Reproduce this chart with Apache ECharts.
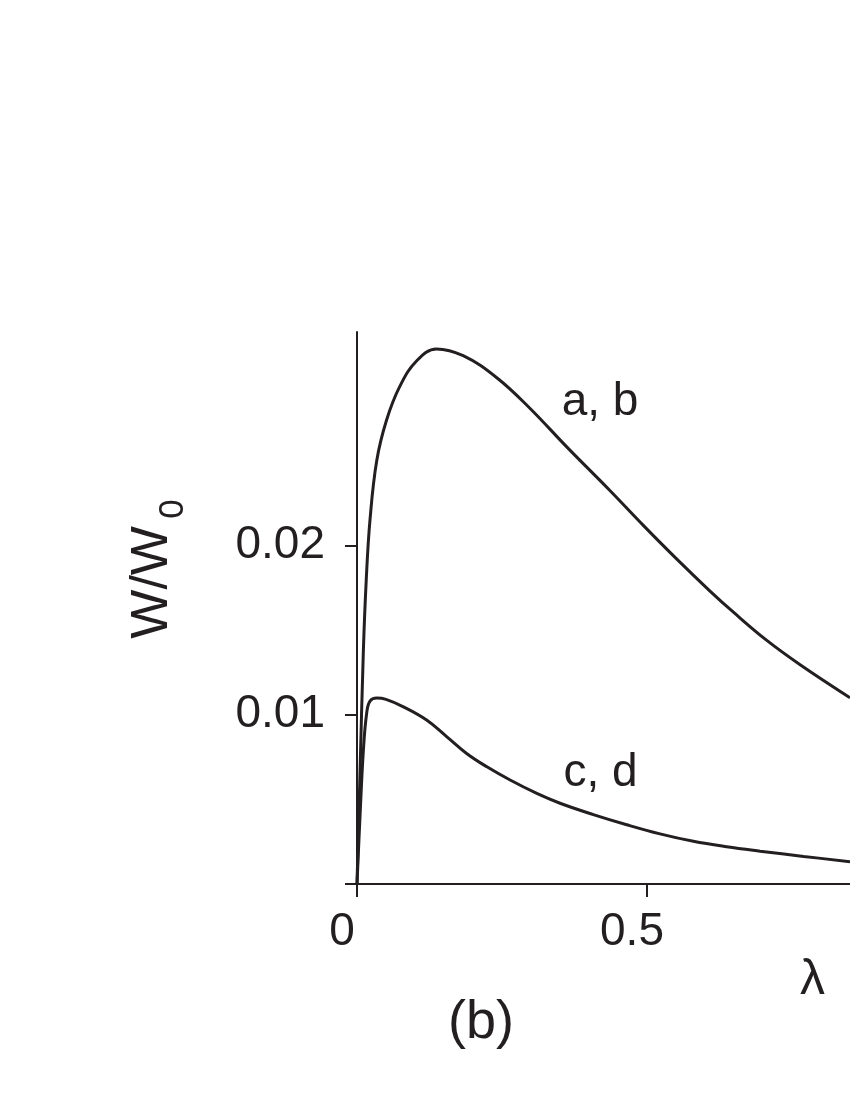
<!DOCTYPE html>
<html>
<head>
<meta charset="utf-8">
<script src="https://cdn.jsdelivr.net/npm/echarts@6/dist/echarts.min.js"></script>
<style>
  html, body { margin: 0; padding: 0; background: #fff; }
  #chart { width: 850px; height: 1100px; }
</style>
</head>
<body>
<div id="chart"></div>
<script>
// curve a, b : [lambda, W/W0]
var curveAB = [
    [0, 0], [0.005, 0.0063], [0.011, 0.0138], [0.016, 0.0180], [0.0224, 0.0215],
    [0.034, 0.0250], [0.051, 0.0274], [0.074, 0.0294], [0.103, 0.0309], [0.137, 0.0316],
    [0.183, 0.0312], [0.241, 0.0299], [0.298, 0.0281], [0.362, 0.0258], [0.436, 0.02324],
    [0.4936, 0.02118], [0.551, 0.0192], [0.6086, 0.0173], [0.649, 0.01605], [0.706, 0.0144],
    [0.764, 0.01295], [0.85, 0.0110]
];
// curve c, d
var curveCD = [
    [0, 0], [0.0052, 0.0040], [0.011, 0.0079], [0.0167, 0.0101], [0.0224, 0.0108],
    [0.034, 0.01098], [0.05, 0.0109], [0.08, 0.01046], [0.12, 0.00968], [0.155, 0.00869],
    [0.189, 0.00771], [0.224, 0.00692], [0.264, 0.00614], [0.31, 0.00535], [0.35, 0.00477],
    [0.4075, 0.0041], [0.465, 0.0035], [0.5224, 0.00296], [0.58, 0.00252], [0.6374, 0.0022],
    [0.695, 0.00194], [0.77, 0.00163], [0.85, 0.00132]
];
var curveLabels = [
    {name: 'a, b', value: [0.419, 0.02844]},
    {name: 'c, d', value: [0.42, 0.00655]}
];
var xTicks = [0, 0.5];
var yTicks = [0, 0.01, 0.02];
var yTickLabels = [0.01, 0.02];

var ink = '#231f20';
var font = 'Liberation Sans, Arial, sans-serif';

var dom = document.getElementById('chart');
var myChart = echarts.init(dom);

var option = {
    animation: false,
    backgroundColor: '#fff',
    grid: {left: 357, right: 0, top: 332, bottom: 216},
    xAxis: {
        type: 'value',
        min: 0,
        max: 0.85,
        splitLine: {show: false},
        axisLine: {lineStyle: {color: ink, width: 2}},
        axisTick: {customValues: xTicks, length: 13, lineStyle: {color: ink, width: 2}},
        axisLabel: {
            customValues: xTicks,
            color: ink, fontFamily: font, fontSize: 46, margin: 25,
            padding: [0, 30, 0, 0],
            formatter: function (v) { return v === 0 ? '0' : String(v); }
        }
    },
    yAxis: {
        type: 'value',
        min: 0,
        max: 0.0326,
        splitLine: {show: false},
        axisLine: {lineStyle: {color: ink, width: 2}},
        axisTick: {customValues: yTicks, length: 12, lineStyle: {color: ink, width: 2}},
        axisLabel: {
            customValues: yTickLabels,
            color: ink, fontFamily: font, fontSize: 46, margin: 32,
            formatter: function (v) { return v.toFixed(2); }
        },
        name: '{a|W/W} {b|0}',
        nameLocation: 'middle',
        nameGap: 166,
        nameTextStyle: {
            padding: [0, 0, 0, 78],
            rich: {
                a: {fontSize: 52, lineHeight: 64, fontFamily: font, color: ink, verticalAlign: 'top'},
                b: {fontSize: 35, lineHeight: 35, fontFamily: font, color: ink, verticalAlign: 'bottom', padding: [0, 0, 0, 4]}
            }
        }
    },
    graphic: [
        {type: 'text', left: 800, top: 955, style: {text: 'λ', fontSize: 50, fontFamily: font, fill: ink}},
        {type: 'text', left: 448, top: 996, style: {text: '(b)', fontSize: 54, fontFamily: font, fill: ink}}
    ],
    series: [
        {
            type: 'line',
            data: curveAB,
            showSymbol: false,
            smooth: 0.4,
            lineStyle: {color: ink, width: 3}
        },
        {
            type: 'line',
            data: curveCD,
            showSymbol: false,
            smooth: 0.4,
            lineStyle: {color: ink, width: 3}
        },
        {
            type: 'scatter',
            data: curveLabels,
            symbolSize: 1,
            itemStyle: {color: '#fff', opacity: 1},
            label: {
                show: true,
                position: 'inside',
                formatter: '{b}',
                color: ink, fontFamily: font, fontSize: 46
            }
        }
    ]
};
if (option && typeof option === "object") {
    myChart.setOption(option, true);
}
</script>
</body>
</html>
